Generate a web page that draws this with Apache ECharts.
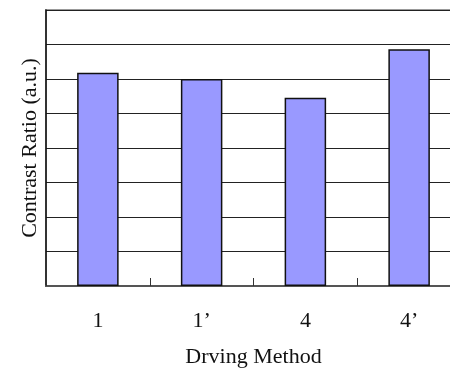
<!DOCTYPE html>
<html>
<head>
<meta charset="utf-8">
<script src="https://cdn.jsdelivr.net/npm/echarts@6/dist/echarts.min.js"></script>
<style>
html,body{margin:0;padding:0;background:#fff;}
#chart{width:450px;height:370px;}
</style>
</head>
<body>
<div id="chart"></div>
<script>
const categories = ['1', '1\u2019', '4', '4\u2019'];
const contrastRatio = [6.18, 6.0, 5.46, 6.86];
const yMin = 0, yMax = 8, yStep = 1;
const xTitle = 'Drving Method';
const yTitle = 'Contrast Ratio (a.u.)';

const chart = echarts.init(document.getElementById('chart'), null, {renderer: 'canvas'});
const font = 'Liberation Serif';
chart.setOption({
  animation: false,
  backgroundColor: '#fff',
  grid: {left: 46, top: 10, width: 415, height: 276, outerBoundsMode: 'none', containLabel: false, show: true, borderColor: '#999', borderWidth: 2, backgroundColor: 'transparent'},
  xAxis: {
    type: 'category',
    data: categories,
    boundaryGap: true,
    axisLine: {show: true, lineStyle: {color: '#555', width: 2}},
    axisTick: {show: true, inside: true, length: 8, alignWithLabel: false, lineStyle: {color: '#333', width: 1}},
    axisLabel: {color: '#111', fontFamily: font, fontSize: 22, margin: 24},
    splitLine: {show: false},
    name: xTitle,
    nameLocation: 'middle',
    nameGap: 60,
    nameTextStyle: {color: '#111', fontFamily: font, fontSize: 22}
  },
  yAxis: {
    type: 'value',
    min: yMin, max: yMax, interval: yStep,
    axisLine: {show: true, lineStyle: {color: '#111', width: 1.5}},
    axisTick: {show: false},
    axisLabel: {show: false},
    splitLine: {show: true, lineStyle: {color: '#222', width: 1}},
    name: yTitle,
    nameLocation: 'middle',
    nameRotate: 90,
    nameGap: 5,
    nameTextStyle: {color: '#111', fontFamily: font, fontSize: 22}
  },
  series: [{
    type: 'bar',
    data: contrastRatio,
    barWidth: '40%',
    itemStyle: {color: '#9999FF', borderColor: '#111', borderWidth: 1.5}
  }]
});
</script>
</body>
</html>
